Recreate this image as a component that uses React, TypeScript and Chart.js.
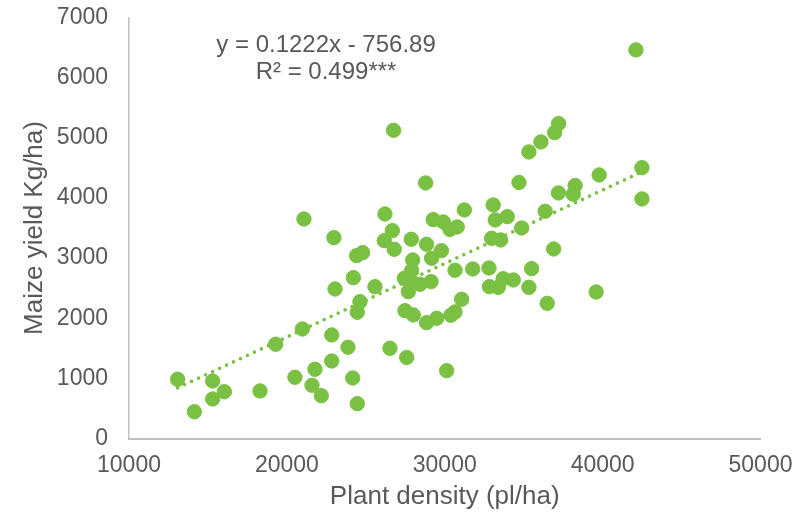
import { useEffect, useRef } from 'react';
import { Chart, registerables } from 'chart.js';

Chart.register(...registerables);

// Plant density (pl/ha) for each field
const densityPlHa = [
  13080, 14140, 15300, 15300, 16040, 18300, 19290, 20510, 20980, 21080,
  21590, 21780, 22180, 22840, 22840, 22980, 23050, 23870, 24170, 24210,
  24420, 24460, 24460, 24630, 24800, 25580, 26170, 26210, 26530, 26680,
  26760, 26800, 27440, 27480, 27590, 27690, 27800, 27880, 27900, 27970,
  28010, 28430, 28790, 28850, 28850, 29130, 29170, 29270, 29490, 29790,
  29910, 30120, 30330, 30390, 30650, 30650, 30790, 31070, 31240, 31770,
  32800, 32830, 32970, 33070, 33200, 33390, 33540, 33700, 33960, 34340,
  34700, 34870, 35330, 35330, 35500, 36090, 36360, 36490, 36900, 36960,
  37210, 37200, 38140, 38260, 39590, 39780, 42110, 42490, 42490,
];

// Maize yield (Kg/ha) for the same fields
const yieldKgHa = [
  984, 446, 956, 657, 778, 790, 1567, 1018, 1821, 3650,
  885, 1151, 712, 1721, 1289, 3339, 2486, 1517, 1006, 2674,
  3040, 579, 2099, 2275, 3090, 2524, 3289, 3733, 1500, 3456,
  5125, 3146, 2664, 2125, 1347, 2441, 2636, 3313, 2790, 2968,
  2054, 2564, 4249, 3230, 1926, 2608, 2997, 3639, 1999, 3123,
  3600, 1128, 3476, 2049, 2104, 2797, 3517, 2315, 3800, 2819,
  2835, 2524, 3329, 3883, 3634, 2514, 3301, 2657, 3689, 2636,
  4257, 3501, 4764, 2514, 2824, 4931, 3778, 2248, 3151, 5085,
  5235, 4083, 4061, 4207, 2436, 4382, 6461, 4503, 3983,
];

// Linear trend: y = 0.1222x - 756.89
const trendSlope = 0.1222;
const trendIntercept = -756.89;
const equationLines = ['y = 0.1222x - 756.89', 'R² = 0.499***'];

const xTicks = [10000, 20000, 30000, 40000, 50000];
const yTicks = [0, 1000, 2000, 3000, 4000, 5000, 6000, 7000];

const GREEN = '#7AC143';
const TEXT = '#595959';
const AXIS = '#BFBFBF';
const FONT = '"Liberation Sans", Arial, sans-serif';

const equationLabel = {
  id: 'equationLabel',
  afterDatasetsDraw(chart: any) {
    const { ctx, scales } = chart;
    const cx = scales.x.getPixelForValue(22480);
    ctx.save();
    ctx.font = `24px ${FONT}`;
    ctx.fillStyle = TEXT;
    ctx.textAlign = 'center';
    ctx.textBaseline = 'middle';
    ctx.fillText(equationLines[0], cx, scales.y.getPixelForValue(6530));
    ctx.fillText(equationLines[1], cx, scales.y.getPixelForValue(6095));
    ctx.restore();
  },
};

export default function App() {
  const canvasRef = useRef<HTMLCanvasElement | null>(null);

  useEffect(() => {
    if (!canvasRef.current) return;
    const points = densityPlHa.map((x, i) => ({ x, y: yieldKgHa[i] }));
    const xMin = Math.min(...densityPlHa);
    const xMax = Math.max(...densityPlHa);
    const trend = [xMin, xMax].map((x) => ({ x, y: trendSlope * x + trendIntercept }));

    const chart = new Chart(canvasRef.current, {
      type: 'scatter',
      data: {
        datasets: [
          {
            type: 'line',
            label: 'Linear trend',
            data: trend,
            order: 0,
            borderColor: GREEN,
            borderWidth: 3.6,
            borderDash: [0, 7.7],
            borderCapStyle: 'round',
            pointRadius: 0,
            fill: false,
          } as any,
          {
            label: 'Maize yield',
            data: points,
            order: 1,
            backgroundColor: GREEN,
            borderColor: GREEN,
            borderWidth: 1,
            pointRadius: 7.2,
            pointHoverRadius: 7.2,
          },
        ],
      },
      options: {
        responsive: false,
        animation: false,
        layout: { padding: { top: 17.5, right: 43.5, bottom: 0, left: 0 } },
        plugins: {
          legend: { display: false },
          tooltip: { enabled: false },
        },
        scales: {
          x: {
            type: 'linear',
            min: 10000,
            max: 50000,
            afterBuildTicks: (scale: any) => {
              scale.ticks = xTicks.map((value) => ({ value }));
            },
            afterFit: (scale: any) => {
              scale.height = 81.5;
              scale.paddingLeft = 0;
              scale.paddingRight = 0;
            },
            grid: { display: false, drawTicks: false },
            border: { display: true, color: AXIS, width: 2 },
            ticks: {
              color: TEXT,
              font: { family: FONT, size: 23 },
              padding: 13.7,
              maxRotation: 0,
              callback: (v: any) => String(v),
            },
            title: {
              display: true,
              text: 'Plant density (pl/ha)',
              color: TEXT,
              font: { family: FONT, size: 26 },
              padding: { top: 0, bottom: 7.4 },
            },
          },
          y: {
            type: 'linear',
            min: 0,
            max: 7000,
            afterBuildTicks: (scale: any) => {
              scale.ticks = yTicks.map((value) => ({ value }));
            },
            afterFit: (scale: any) => {
              scale.width = 129;
              scale.paddingTop = 0;
              scale.paddingBottom = 0;
            },
            grid: { display: false, drawTicks: false },
            border: { display: true, color: AXIS, width: 1.5 },
            ticks: {
              color: TEXT,
              font: { family: FONT, size: 23 },
              padding: 21,
              callback: (v: any) => String(v),
            },
            title: {
              display: true,
              text: 'Maize yield Kg/ha)',
              color: TEXT,
              font: { family: FONT, size: 26 },
              padding: { top: 19.4, bottom: 0 },
            },
          },
        },
      },
      plugins: [equationLabel],
    });

    return () => chart.destroy();
  }, []);

  return (
    <div style={{ position: 'fixed', left: 0, top: 0, width: 804, height: 520, background: '#fff' }}>
      <canvas ref={canvasRef} width={804} height={520} />
    </div>
  );
}
